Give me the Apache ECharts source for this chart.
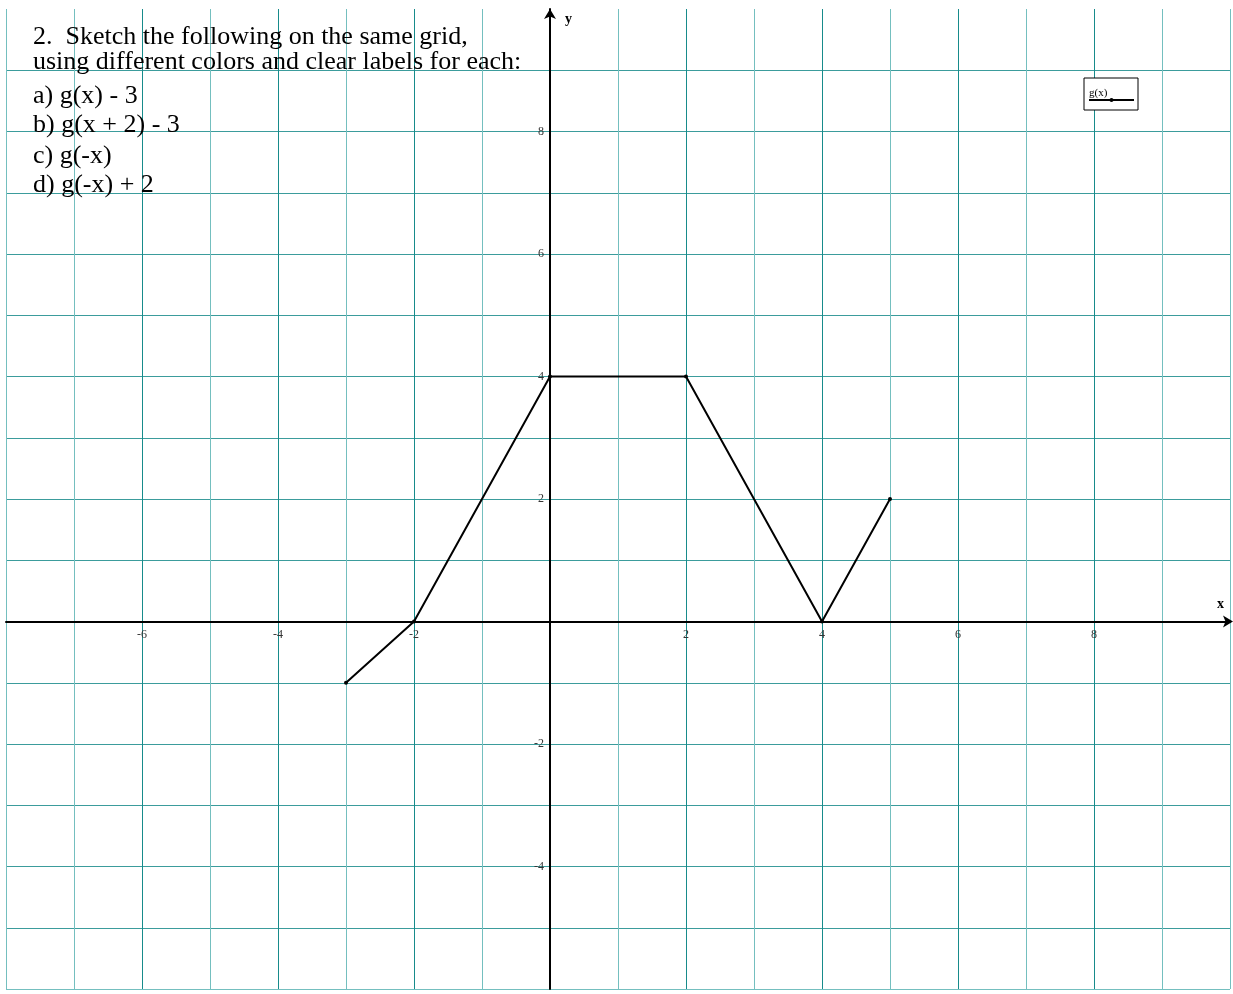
<!DOCTYPE html>
<html>
<head>
<meta charset="utf-8">
<title>g(x) on a grid</title>
<script src="https://cdn.jsdelivr.net/npm/echarts@6/dist/echarts.min.js"></script>
<style>
  html, body { margin: 0; padding: 0; background: #fff; }
  #chart { width: 1233px; height: 994px; }
</style>
</head>
<body>
<div id="chart"></div>
<script>
// Vertices of the piecewise-linear function g(x)
const gX = [-3, -2, 0, 2, 4, 5];
const gY = [-1, 0, 4, 4, 0, 2];

// Axis extents and labelled ticks
const xRange = [-8, 10];
const yRange = [-6, 10];
const xTickLabels = [-6, -4, -2, 2, 4, 6, 8];
const yTickLabels = [-4, -2, 2, 4, 6, 8];

// Worksheet instructions printed in the upper-left corner
const promptLines = [
  '2.  Sketch the following on the same grid,',
  'using different colors and clear labels for each:',
  'a) g(x) - 3',
  'b) g(x + 2) - 3',
  'c) g(-x)',
  'd) g(-x) + 2'
];

const SERIF = '"Liberation Serif", "Times New Roman", serif';
const GRID_DARK = '#178b8b';
const GRID_MID = '#3b9c9c';
const GRID_LIGHT = '#74bfbf';

// Plot area
const GRID = { left: 6, top: 9, width: 1224, height: 980 };
// Axes cross at the origin: shift each axis from its edge to the zero of the other
const xAxisShift = -GRID.height * (0 - yRange[0]) / (yRange[1] - yRange[0]);
const yAxisShift = -GRID.width * (0 - xRange[0]) / (xRange[1] - xRange[0]);

// Inner grid lines: even and odd colours; the outer frame is light
function gridColors(range, evenColor, oddColor) {
  const colors = [];
  for (let v = range[0]; v <= range[1]; v++) {
    const border = v === range[0] || v === range[1];
    colors.push(border ? GRID_LIGHT : (v % 2 === 0 ? evenColor : oddColor));
  }
  return colors;
}

const chart = echarts.init(document.getElementById('chart'), null, { renderer: 'canvas' });

const promptCenters = [37, 62, 96, 125, 156, 185];

const option = {
  backgroundColor: '#ffffff',
  animation: false,
  grid: Object.assign({ outerBoundsMode: 'none', containLabel: false }, GRID),
  legend: {
    show: true,
    left: 1084,
    top: 78,
    padding: [10, 3, 8, 4],
    borderColor: '#000',
    borderWidth: 1,
    backgroundColor: '#fff',
    itemWidth: 45,
    itemHeight: 5,
    itemGap: 0,
    selectedMode: false,
    formatter: name => '{t|' + name + '}',
    textStyle: {
      fontFamily: SERIF,
      fontSize: 11,
      color: '#000',
      padding: [0, 0, 0, -50],
      rich: {
        t: {
          fontFamily: SERIF,
          fontSize: 11,
          lineHeight: 24,
          verticalAlign: 'top',
          color: '#000'
        }
      }
    },
    data: ['g(x)']
  },
  xAxis: {
    type: 'value',
    position: 'bottom',
    offset: xAxisShift,
    min: xRange[0],
    max: xRange[1],
    interval: 1,
    axisLine: {
      onZero: false,
      symbol: ['none', 'arrow'],
      symbolSize: [9, 10],
      symbolOffset: [0, 3],
      lineStyle: { color: '#000', width: 2 }
    },
    axisTick: { show: false },
    axisLabel: {
      margin: 7,
      fontFamily: SERIF,
      fontSize: 12,
      color: '#333',
      formatter: v => (xTickLabels.includes(v) ? String(v) : '')
    },
    splitLine: {
      show: true,
      lineStyle: { color: gridColors(xRange, GRID_DARK, GRID_LIGHT), width: 1 }
    }
  },
  yAxis: {
    type: 'value',
    position: 'left',
    offset: yAxisShift,
    min: yRange[0],
    max: yRange[1],
    interval: 1,
    axisLine: {
      onZero: false,
      symbol: ['none', 'arrow'],
      symbolSize: [9, 10],
      lineStyle: { color: '#000', width: 2 }
    },
    axisTick: { show: false },
    axisLabel: {
      margin: 6,
      fontFamily: SERIF,
      fontSize: 12,
      color: '#333',
      formatter: v => (yTickLabels.includes(v) ? String(v) : '')
    },
    splitLine: {
      show: true,
      showMaxLine: false,
      lineStyle: { color: gridColors(yRange, GRID_MID, GRID_MID), width: 1 }
    }
  },
  series: [{
    name: 'g(x)',
    type: 'line',
    data: gX.map((x, i) => [x, gY[i]]),
    showAllSymbol: true,
    symbol: 'circle',
    symbolSize: 4,
    color: '#000',
    itemStyle: { color: '#000' },
    lineStyle: { color: '#000', width: 2 },
    z: 5
  }],
  graphic: [
    ...promptLines.map((line, i) => ({
      type: 'text',
      x: 33,
      y: promptCenters[i],
      z: 10,
      style: {
        text: line,
        font: '26px ' + SERIF,
        fill: '#000',
        verticalAlign: 'middle'
      }
    })),
    {
      type: 'text', left: 1217, top: 597, z: 10,
      style: { text: 'x', font: 'bold 14px ' + SERIF, fill: '#000' }
    },
    {
      type: 'text', left: 565, top: 12, z: 10,
      style: { text: 'y', font: 'bold 14px ' + SERIF, fill: '#000' }
    }
  ]
};

chart.setOption(option);
</script>
</body>
</html>
